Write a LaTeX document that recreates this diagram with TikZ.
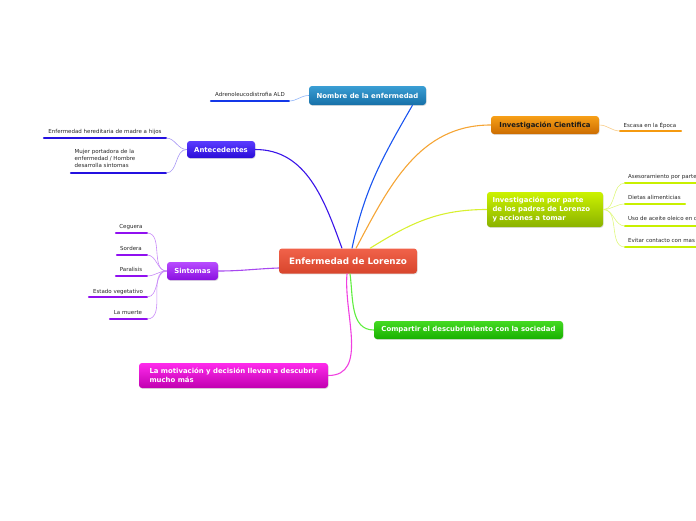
\documentclass[tikz,border=0pt]{standalone}
\usepackage{fontspec}
\setmainfont{DejaVu Sans}
\usetikzlibrary{shadows}
\definecolor{cenT}{HTML}{F0624A}\definecolor{cenB}{HTML}{D8452C}
\definecolor{nomT}{HTML}{3A9ED4}\definecolor{nomB}{HTML}{1670A8}
\definecolor{antT}{HTML}{5A3CFF}\definecolor{antB}{HTML}{2A0CD8}
\definecolor{sinT}{HTML}{B84CFF}\definecolor{sinB}{HTML}{8A10E0}
\definecolor{invT}{HTML}{F7A018}\definecolor{invB}{HTML}{CC6C00}
\definecolor{padT}{HTML}{CCF200}\definecolor{padB}{HTML}{8AB200}
\definecolor{comT}{HTML}{44DA22}\definecolor{comB}{HTML}{18B000}
\definecolor{motT}{HTML}{FF2AEC}\definecolor{motB}{HTML}{C000B0}
\definecolor{lnom}{HTML}{1A55F0}\definecolor{lant}{HTML}{3A14E8}
\definecolor{lsin}{HTML}{A848F0}\definecolor{linv}{HTML}{F5A535}
\definecolor{lpad}{HTML}{D8F030}\definecolor{lcom}{HTML}{60EE40}
\definecolor{lmot}{HTML}{F040E0}
\definecolor{unom}{HTML}{1438E8}\definecolor{uant}{HTML}{2410E0}
\definecolor{usin}{HTML}{9010F0}\definecolor{uinv}{HTML}{F59A10}
\definecolor{upad}{HTML}{C8F000}
\definecolor{snom}{HTML}{90B4F8}\definecolor{sant}{HTML}{A898F4}
\definecolor{ssin}{HTML}{C88AF8}\definecolor{sinv}{HTML}{F8CC88}
\definecolor{spad}{HTML}{E0F880}
\tikzset{
  topic/.style={rounded corners=3pt, inner sep=0pt, font=\bfseries\fontsize{6.9}{8.6}\selectfont,
     text=white, drop shadow={opacity=0.25, shadow xshift=0.6pt, shadow yshift=-0.9pt}},
  leaf/.style={inner sep=0pt, font=\fontsize{5.5}{6.6}\selectfont, text=black!85},
  ul/.style={line width=2.4pt, line cap=round},
  br/.style={line width=1.1pt},
  tw/.style={line width=0.6pt},
}
\begin{document}
\begin{tikzpicture}[x=1pt,y=1pt]
\useasboundingbox (0,0) rectangle (696,-520);
\clip (0,0) rectangle (696,-520);
% main topics
\node[topic, top color=cenT, bottom color=cenB, minimum width=138, minimum height=25,
  font=\bfseries\fontsize{8.8}{10}\selectfont] (cen) at (348,-261) {Enfermedad de Lorenzo};
\node[topic, top color=nomT, bottom color=nomB, minimum width=117, minimum height=19] (nom) at (367.5,-95.5) {Nombre de la enfermedad};
\node[topic, top color=antT, bottom color=antB, minimum width=68, minimum height=17] (ant) at (221,-149.5) {Antecedentes};
\node[topic, top color=sinT, bottom color=sinB, minimum width=51, minimum height=18] (sin) at (192.5,-271) {Sintomas};
\node[topic, top color=invT, bottom color=invB, minimum width=108, minimum height=18, text=black!90] (inv) at (545,-125) {Investigación Cientifica};
\node[topic, top color=padT, bottom color=padB, minimum width=116, minimum height=35, align=left] (pad) at (545,-209.5) {Investigación por parte\hspace*{14pt}\\de los padres de Lorenzo\\y acciones a tomar};
\node[topic, top color=comT, bottom color=comB, minimum width=189, minimum height=18] (com) at (468.5,-330) {Compartir el descubrimiento con la sociedad};
\node[topic, top color=motT, bottom color=motB, minimum width=189, minimum height=25, align=left] (mot) at (233.5,-375.5) {La motivación y decisión llevan a descubrir\\mucho más};
% main connectors
\draw[br, lnom] ([xshift=4pt]cen.north) to[out=78,in=240] ([xshift=45pt]nom.south);
\draw[br, lant] ([xshift=-6pt]cen.north) to[out=110,in=0] (ant.east);
\draw[br, linv] ([xshift=8pt]cen.north) to[out=62,in=180] (inv.west);
\draw[br, lpad] ([xshift=22pt]cen.north) to[out=32,in=180] (pad.west);
\draw[br, lsin] ([yshift=-7pt]cen.west) to[out=182,in=0] (sin.east);
\draw[br, lcom] ([xshift=2pt]cen.south) to[out=-82,in=180] (com.west);
\draw[br, lmot] ([xshift=-1pt]cen.south) to[out=-95,in=0] (mot.east);
% leaves: Nombre
\node[leaf, anchor=base] (ald) at (250,-96) {Adrenoleucodistrofia ALD};
\coordinate (aldL) at (211,-101); \coordinate (aldR) at (289,-101);
\draw[ul, unom] (aldL) -- (aldR);
\draw[tw, snom] (nom.west) to[out=180,in=0] (aldR);
% leaves: Antecedentes
\node[leaf, anchor=base] (an1) at (105,-133) {Enfermedad hereditaria de madre a hijos};
\coordinate (an1L) at (44,-138); \coordinate (an1R) at (166,-138);
\draw[ul, uant] (an1L) -- (an1R);
\node[leaf, anchor=north west, align=left] (an2) at (74.5,-149.5) {Mujer portadora de la\\enfermedad / Hombre\\desarrolla sintomas};
\coordinate (an2L) at (71,-173); \coordinate (an2R) at (166,-173);
\draw[ul, uant] (an2L) -- (an2R);
\draw[tw, sant] (ant.west) to[out=180,in=0] (an1R);
\draw[tw, sant] (ant.west) to[out=180,in=0] (an2R);
% leaves: Sintomas
\node[leaf, anchor=base] (s1) at (131,-228) {Ceguera};
\node[leaf, anchor=base] (s2) at (131,-250) {Sordera};
\node[leaf, anchor=base] (s3) at (131,-271) {Paralisis};
\node[leaf, anchor=base] (s4) at (118,-293) {Estado vegetativo};
\node[leaf, anchor=base] (s5) at (128,-314) {La muerte};
\coordinate (s1L) at (116,-233); \coordinate (s1R) at (147,-233);
\coordinate (s2L) at (117,-255); \coordinate (s2R) at (147,-255);
\coordinate (s3L) at (116,-276); \coordinate (s3R) at (147,-276);
\coordinate (s4L) at (89,-297);  \coordinate (s4R) at (147,-297);
\coordinate (s5L) at (110,-319); \coordinate (s5R) at (147,-319);
\foreach \s in {s1,s2,s3,s4,s5}{
  \draw[ul, usin] (\s L) -- (\s R);
  \draw[tw, ssin] (sin.west) to[out=180,in=0] (\s R);
}
% leaves: Investigacion Cientifica
\node[leaf, anchor=base] (esc) at (650,-127) {Escasa en la Época};
\coordinate (escL) at (620,-131); \coordinate (escR) at (681,-131);
\draw[ul, uinv] (escL) -- (escR);
\draw[tw, sinv] (inv.east) to[out=0,in=180] (escL);
% leaves: Padres
\node[leaf, anchor=base west] (p1) at (628,-178) {Asesoramiento por parte};
\node[leaf, anchor=base west] (p2) at (628,-199) {Dietas alimenticias};
\node[leaf, anchor=base west] (p3) at (628,-220.5) {Uso de aceite oleico en c};
\node[leaf, anchor=base west] (p4) at (628,-242) {Evitar contacto con mas};
\coordinate (p1L) at (625,-183); \coordinate (p1R) at (700,-183);
\coordinate (p2L) at (625,-204); \coordinate (p2R) at (685,-204);
\coordinate (p3L) at (625,-226); \coordinate (p3R) at (700,-226);
\coordinate (p4L) at (625,-247); \coordinate (p4R) at (700,-247);
\foreach \p in {p1,p2,p3,p4}{
  \draw[ul, upad] (\p L) -- (\p R);
  \draw[tw, spad] (pad.east) to[out=0,in=180] (\p L);
}
\end{tikzpicture}
\end{document}
